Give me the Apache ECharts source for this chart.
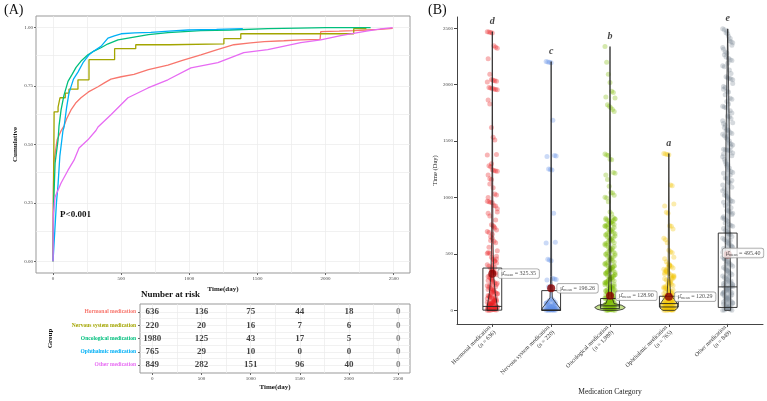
<!DOCTYPE html>
<html>
<head>
<meta charset="utf-8">
<title>Cumulative incidence and time by medication</title>
<script src="https://cdn.jsdelivr.net/npm/echarts@6/dist/echarts.min.js"></script>
<style>
html, body { margin: 0; padding: 0; background: #fff; }
#container { width: 767px; height: 401px; }
</style>
</head>
<body>
<div id="container"></div>
<script>
// ---------- data ----------
var groupNames = ['Hormonal medication', 'Nervous system medication', 'Oncological medication', 'Ophthalmic medication', 'Other medication'];
var groupN = ['636', '220', '1,980', '765', '849'];
var curveColors = ['#F8766D', '#A3A500', '#00BF7D', '#00B0F6', '#E76BF3'];
var pointColors = ['#E8191B', '#5E8DE6', '#7DBB00', '#F2C500', '#7F8C98'];

// cumulative curves [day, cumulative]
var cumHormonal = [[0,0],[2,0.3],[5,0.42],[15,0.46],[30,0.52],[60,0.56],[81,0.58],[100,0.61],[132,0.648],[170,0.68],[205,0.7],[260,0.725],[330,0.747],[380,0.765],[425,0.78],[500,0.79],[594,0.8],[700,0.82],[843,0.84],[950,0.86],[1085,0.884],[1200,0.905],[1327,0.927],[1450,0.935],[1550,0.94],[1694,0.944],[1818,0.948],[1960,0.95],[1965,0.983],[2100,0.985],[2207,0.987],[2300,0.99],[2400,0.993],[2493,0.997]];
var cumNervous = [[0,0],[8,0.64],[37,0.66],[51,0.7],[90,0.72],[117,0.737],[183,0.777],[264,0.863],[452,0.91],[607,0.927],[855,0.931],[1254,0.953],[1378,0.974],[2207,0.996],[2300,0.996]];
var cumOncological = [[0,0],[5,0.25],[15,0.42],[37,0.52],[44,0.58],[59,0.648],[80,0.71],[110,0.77],[140,0.8],[169,0.83],[210,0.86],[256,0.884],[300,0.9],[352,0.914],[400,0.93],[477,0.948],[594,0.96],[700,0.97],[843,0.979],[1085,0.987],[1300,0.99],[1576,0.996],[1800,0.998],[2000,1.0],[2331,1.0]];
var cumOphthalmic = [[0,0],[10,0.1],[25,0.25],[37,0.33],[50,0.45],[73,0.56],[81,0.575],[100,0.66],[117,0.72],[150,0.78],[183,0.81],[220,0.85],[264,0.884],[300,0.9],[352,0.92],[403,0.955],[450,0.965],[500,0.974],[600,0.978],[718,0.98],[850,0.985],[990,0.99],[1200,0.993],[1393,0.996]];
var cumOther = [[0,0],[2,0.2],[15,0.275],[59,0.335],[110,0.39],[154,0.433],[191,0.485],[256,0.52],[315,0.56],[330,0.575],[425,0.627],[550,0.7],[697,0.742],[843,0.777],[1012,0.828],[1210,0.85],[1400,0.893],[1576,0.906],[1818,0.936],[1965,0.948],[2111,0.966],[2300,0.985],[2405,0.995],[2493,1.0]];

// number at risk
var riskTimes = [0, 500, 1000, 1500, 2000, 2500];
var riskHormonal = [636, 136, 75, 44, 18, 0];
var riskNervous = [220, 20, 16, 7, 6, 0];
var riskOncological = [1980, 125, 43, 17, 5, 0];
var riskOphthalmic = [765, 29, 10, 0, 0, 0];
var riskOther = [849, 282, 151, 96, 40, 0];

// panel B: individual times (Day)
var timeHormonal = [2470,2468,2462,2458,2345,2332,2322,2230,2092,2045,2040,2036,2030,2025,1975,1970,1966,1962,1958,1955,1865,1830,1620,1535,1510,1382,1376,1282,1272,1246,1240,1236,1232,1200,1166,1160,1086,1032,1022,968,962,958,954,930,924,872,860,836,758,750,730,712,700,690,652,640,612,600,528,512,506,470,452,436,420,404,390,376,360,344,330,316,300,288,272,258,244,230,218,204,192,180,168,156,144,132,120,110,100,90,80,72,64,56,48,42,36,30,24,18,14,10,6,3,0,0,2,8,12,20,28,38,50,60,70,85,95,105,125,140,160,175,210,240,265,310,350,400,440,480,15,33,45,66,78,115,150,185,225,280,335,380,455,505,560,620,675,740,800,900,1000,1120,1300];
var timeNervous = [2205,2202,2198,2195,1685,1372,1368,1364,1252,1248,1244,860,604,598,452,446,440,282,278,274,270,210,205,100,85,70,60,50,42,35,28,22,16,12,8,5,3,1,0,0,0,2,4,6,10,14,18,25,30,38,45,55,65,75,90];
var timeOncological = [2338,2200,2092,2020,1942,1930,1882,1890,1822,1810,1795,1780,1762,1385,1378,1372,1340,1335,1222,1215,1200,1160,1100,1045,1040,1020,1002,995,962,872,855,820,812,805,800,790,780,770,760,750,740,728,715,700,690,678,665,650,640,628,615,600,590,575,560,548,535,520,505,495,480,468,455,440,428,415,400,388,375,362,350,336,322,310,298,285,272,260,248,236,224,212,200,190,180,170,160,150,140,130,120,110,100,92,84,76,68,60,54,48,42,36,30,25,20,16,12,8,5,2,0,0,1,3,6,10,14,18,22,28,33,38,44,50,57,64,72,80,88,96,105,115,125,135,145,155,165,175,185,195,205,218,230,242,255,268,280,292,305,318,330,345,358,370,382,395,408,422,435,448,462,475,488,500,512,526,540,553,567,580,595,608,622,634,646,660,672,684,696,708,722,734,746,756,766,776,786,796,808,816,4,9,15,24,35,46,58,70,82,94,108,122,138,152,168,182,198,214,228,246,262,276,290,302,316,328,342,356,368,380,392];
var timeOphthalmic = [1390,1386,1382,1380,1110,1105,942,925,870,860,750,745,720,640,625,600,532,520,510,470,458,430,412,400,388,376,364,352,340,328,316,304,292,280,268,256,244,232,220,208,196,184,172,160,148,136,124,112,100,90,80,70,62,54,46,40,34,28,22,18,14,10,7,4,2,0,0,1,3,5,8,12,16,20,25,30,36,42,48,56,64,72,85,95,105,118,130,142,155,168,180,195,210,225,240,262,286,310,334,358,382,405,6,11,19,27,33,44,52,60,68,78,88,98,110,122,135,150,165,190,215,250,275,300,320,345,370,395];
var timeOther = [2495,2488,2460,2452,2390,2380,2372,2314,2290,2282,2235,2222,2215,2167,2160,2070,2062,2057,2050,2044,1983,1975,1942,1936,1880,1872,1810,1802,1795,1722,1715,1700,1662,1655,1640,1604,1596,1577,1568,1560,1548,1530,1515,1500,1474,1466,1428,1424,1421,1418,1414,1370,1362,1340,1300,1292,1262,1230,1222,1215,1174,1168,1135,1128,1090,1060,1022,1015,1008,985,972,965,958,930,888,880,872,850,818,812,800,790,760,752,745,725,705,698,690,672,655,640,628,612,600,588,575,560,548,535,520,508,495,482,470,455,442,430,418,405,392,380,368,355,342,330,318,305,292,280,268,255,242,230,218,205,192,180,168,155,142,130,118,105,92,80,68,55,42,30,18,8,0,0,4,12,24,36,48,62,75,88,100,112,125,138,150,162,175,188,200,212,225,238,250,2475,2430,2410,2350,2330,2265,2245,2190,2130,2100,2010,1960,1910,1850,1830,1770,1750,1680,1620,1590,1540,1480,1450,1395,1385,1320,1280,1245,1200,1150,1110,1075,1040,995,945,910,860,830,775,735,680,620,565,515,460,410,350,300,260,210,160,110,60,20];

// panel B summary statistics
var q1Values = [2, 0, 15, 30, 26];
var medianValues = [35, 3, 40, 60, 208];
var q3Values = [375, 175, 105, 125, 685];
var meanValues = [325.35, 196.26, 128.90, 120.29, 495.40];
var maxValues = [2470, 2205, 2338, 1390, 2495];
var groupLetters = ['d', 'c', 'b', 'a', 'e'];

// violin profiles [Day, half width in category units]
var violinHormonal = [[0,0.09],[40,0.085],[150,0.05],[300,0.025],[600,0.012],[1200,0.006],[2470,0]];
var violinNervous = [[0,0.16],[20,0.15],[60,0.09],[110,0.02],[300,0.008],[2205,0]];
var violinOncological = [[0,0.14],[10,0.22],[26,0.26],[45,0.2],[60,0.07],[120,0.03],[300,0.015],[800,0.008],[2338,0]];
var violinOphthalmic = [[0,0.1],[20,0.15],[55,0.15],[100,0.09],[140,0.03],[300,0.012],[1390,0]];
var violinOther = [[0,0.05],[200,0.05],[600,0.04],[1500,0.03],[2495,0]];

// ---------- build ----------
var serif = 'Liberation Serif';
var chart = echarts.init(document.getElementById('container'));

var cumList = [cumHormonal, cumNervous, cumOncological, cumOphthalmic, cumOther];
var riskList = [riskHormonal, riskNervous, riskOncological, riskOphthalmic, riskOther];
var timeList = [timeHormonal, timeNervous, timeOncological, timeOphthalmic, timeOther];
var violinList = [violinHormonal, violinNervous, violinOncological, violinOphthalmic, violinOther];

var xTicksA = [0, 500, 1000, 1500, 2000, 2500];
var xGridA = [0, 250, 500, 750, 1000, 1250, 1500, 1750, 2000, 2250, 2500];
var yTicksA = [0, 0.25, 0.5, 0.75, 1];
var yGridA = [0, 0.125, 0.25, 0.375, 0.5, 0.625, 0.75, 0.875, 1];
var rowTicks = [1, 2, 3, 4, 5];
var rowGrid = [1, 1.5, 2, 2.5, 3, 3.5, 4, 4.5, 5];
var yTicksB = [0, 500, 1000, 1500, 2000, 2500];

function hexAlpha(hex, a) {
	var r = parseInt(hex.slice(1, 3), 16), g = parseInt(hex.slice(3, 5), 16), b = parseInt(hex.slice(5, 7), 16);
	return 'rgba(' + r + ',' + g + ',' + b + ',' + a + ')';
}

// light background grid drawn as mark lines on an empty series
function gridLines(xi, yi, xs, ys) {
	var d = [];
	xs.forEach(function (v) { d.push({ xAxis: v }); });
	ys.forEach(function (v) { d.push({ yAxis: v }); });
	return {
		type: 'line', xAxisIndex: xi, yAxisIndex: yi, data: [], z: 0, silent: true,
		markLine: {
			silent: true, symbol: 'none', animation: false, label: { show: false },
			lineStyle: { color: '#ebebeb', width: 0.7, type: 'solid' }, emphasis: { disabled: true },
			data: d
		}
	};
}

var tickFont = { fontFamily: serif, fontSize: 5, color: '#444', formatter: function (v) { return String(v); } };
var nameBold = { fontFamily: serif, fontSize: 7, fontWeight: 'bold', color: '#111' };

var xAxes = [
	{ // A main
		type: 'value', gridIndex: 0, min: -125, max: 2620,
		axisLine: { show: false, onZero: false },
		axisTick: { show: true, customValues: xTicksA, length: 2, lineStyle: { color: '#666' } },
		axisLabel: Object.assign({ customValues: xTicksA, margin: 3 }, tickFont),
		splitLine: { show: false },
		name: 'Time(day)', nameLocation: 'middle', nameGap: 11, nameTextStyle: nameBold
	},
	{ // risk table
		type: 'value', gridIndex: 1, min: -125, max: 2620,
		axisLine: { show: false, onZero: false },
		axisTick: { show: true, customValues: xTicksA, length: 2, lineStyle: { color: '#666' } },
		axisLabel: Object.assign({ customValues: xTicksA, margin: 3 }, tickFont),
		splitLine: { show: false },
		name: 'Time(day)', nameLocation: 'middle', nameGap: 11, nameTextStyle: nameBold
	},
	{ // B
		type: 'value', gridIndex: 2, min: 0.4, max: 5.6,
		axisLine: { show: true, onZero: false, lineStyle: { color: '#444', width: 1 } },
		axisTick: { show: true, customValues: rowTicks, length: 3, lineStyle: { color: '#444' } },
		axisLabel: {
			customValues: rowTicks, rotate: 45, margin: 5, fontFamily: serif, fontSize: 6, color: '#333', lineHeight: 7,
			formatter: function (v) { return groupNames[v - 1] + '\n(n = ' + groupN[v - 1] + ')'; }
		},
		splitLine: { show: false },
		name: 'Medication Category', nameLocation: 'middle', nameGap: 60,
		nameTextStyle: { fontFamily: serif, fontSize: 7.5, color: '#222' }
	}
];

var richGroups = {};
for (var g = 0; g < 5; g++) {
	richGroups['g' + g] = { color: curveColors[g], fontFamily: serif, fontSize: 5.5, fontWeight: 'bold' };
}

var yAxes = [
	{ // A main
		type: 'value', gridIndex: 0, min: -0.05, max: 1.05,
		axisLine: { show: false, onZero: false },
		axisTick: { show: true, customValues: yTicksA, length: 2, lineStyle: { color: '#666' } },
		axisLabel: Object.assign({}, tickFont, { customValues: yTicksA, margin: 3, formatter: function (v) { return v.toFixed(2); } }),
		splitLine: { show: false },
		name: 'Cumulative', nameLocation: 'middle', nameGap: 17, nameRotate: 90, nameTextStyle: nameBold
	},
	{ // risk table rows
		type: 'value', gridIndex: 1, min: 0.4, max: 5.6, inverse: true,
		axisLine: { show: false, onZero: false },
		axisTick: { show: true, customValues: rowTicks, length: 2, lineStyle: { color: '#666' } },
		axisLabel: {
			customValues: rowTicks, margin: 4, rich: richGroups,
			formatter: function (v) { return '{g' + (v - 1) + '|' + groupNames[v - 1] + '}'; }
		},
		splitLine: { show: false },
		name: 'Group', nameLocation: 'middle', nameGap: 86, nameRotate: 90, nameTextStyle: nameBold
	},
	{ // B
		type: 'value', gridIndex: 2, min: -120, max: 2600,
		axisLine: { show: true, onZero: false, lineStyle: { color: '#444', width: 1 } },
		axisTick: { show: true, customValues: yTicksB, length: 3, lineStyle: { color: '#444' } },
		axisLabel: Object.assign({ customValues: yTicksB, margin: 4 }, tickFont),
		splitLine: { show: false },
		name: 'Time (Day)', nameLocation: 'middle', nameGap: 18, nameRotate: 90,
		nameTextStyle: { fontFamily: serif, fontSize: 6.5, color: '#222' }
	}
];

var series = [];

series.push(gridLines(0, 0, xGridA, yGridA));
series.push(gridLines(1, 1, xGridA, rowGrid));

// A: cumulative curves
for (var i = 0; i < 5; i++) {
	series.push({
		type: 'line', name: groupNames[i], xAxisIndex: 0, yAxisIndex: 0,
		data: cumList[i], showSymbol: false, symbol: 'none',
		step: i === 1 ? 'end' : false,
		lineStyle: { color: curveColors[i], width: 1.3 }, z: 5
	});
}

// risk table numbers
var riskData = [];
for (var r = 0; r < 5; r++) {
	for (var j = 0; j < riskTimes.length; j++) {
		var item = { value: [riskTimes[j], r + 1, riskList[r][j]] };
		if (j === riskTimes.length - 1) item.label = { color: '#666' };
		riskData.push(item);
	}
}
series.push({
	type: 'scatter', xAxisIndex: 1, yAxisIndex: 1, data: riskData, symbolSize: 0, z: 5,
	label: {
		show: true, position: 'inside', fontFamily: serif, fontSize: 9, fontWeight: 'bold', color: '#111',
		formatter: function (p) { return p.value[2]; }
	}
});

// B: jittered points
for (var k = 0; k < 5; k++) {
	var pts = [];
	for (var m = 0; m < timeList[k].length; m++) {
		var jit = (((m * 7919) % 13) / 12 - 0.5) * 0.17;
		pts.push([k + 1 + jit, timeList[k][m]]);
	}
	series.push({
		type: 'scatter', xAxisIndex: 2, yAxisIndex: 2, data: pts, symbolSize: 5,
		itemStyle: { color: hexAlpha(pointColors[k], 0.4) }, z: 2
	});
}

// B: violins
series.push({
	type: 'custom', xAxisIndex: 2, yAxisIndex: 2, z: 3,
	data: [[1, 0], [2, 0], [3, 0], [4, 0], [5, 0]],
	encode: { x: 0, y: 1 },
	renderItem: function (params, api) {
		var idx = params.dataIndex, prof = violinList[idx], cx = idx + 1;
		var pts = [];
		for (var a = 0; a < prof.length; a++) pts.push(api.coord([cx + prof[a][1], prof[a][0]]));
		for (var b = prof.length - 1; b >= 0; b--) pts.push(api.coord([cx - prof[b][1], prof[b][0]]));
		return {
			type: 'polygon', shape: { points: pts },
			style: { fill: hexAlpha(pointColors[idx], 0.45), stroke: '#222', lineWidth: 0.8 }
		};
	}
});

// B: boxes
series.push({
	type: 'custom', xAxisIndex: 2, yAxisIndex: 2, z: 4,
	data: [[1, 0], [2, 0], [3, 0], [4, 0], [5, 0]],
	encode: { x: 0, y: 1 },
	renderItem: function (params, api) {
		var idx = params.dataIndex, cx = idx + 1, hw = 0.16;
		var tl = api.coord([cx - hw, q3Values[idx]]);
		var br = api.coord([cx + hw, q1Values[idx]]);
		var ml = api.coord([cx - hw, medianValues[idx]]);
		var mr = api.coord([cx + hw, medianValues[idx]]);
		return {
			type: 'group', children: [
				{ type: 'rect', shape: { x: tl[0], y: tl[1], width: br[0] - tl[0], height: br[1] - tl[1] },
					style: { fill: 'none', stroke: '#222', lineWidth: 0.9 } },
				{ type: 'line', shape: { x1: ml[0], y1: ml[1], x2: mr[0], y2: mr[1] },
					style: { stroke: '#222', lineWidth: 0.9 } }
			]
		};
	}
});

// B: means with labels
var meanData = [];
for (var q = 0; q < 5; q++) {
	var md = { value: [q + 1, meanValues[q]] };
	// the last label is pushed back inside the panel
	if (q === 4) md.label = { position: [-1, -2] };
	meanData.push(md);
}
series.push({
	type: 'scatter', xAxisIndex: 2, yAxisIndex: 2, data: meanData, symbolSize: 8, z: 6,
	itemStyle: { color: '#8B0000' },
	label: {
		show: true, position: 'right', distance: 2,
		backgroundColor: '#fff', borderColor: '#888', borderWidth: 0.7, borderRadius: 2, padding: [1, 3, 1, 3],
		formatter: function (p) { return '{m|μ̂}{s|mean}{m| = ' + p.value[1].toFixed(2) + '}'; },
		rich: {
			m: { fontFamily: serif, fontSize: 6, color: '#222' },
			s: { fontFamily: serif, fontSize: 4, color: '#222', padding: [3, 0, 0, 0] }
		}
	}
});

// B: group letters above maximum
var letterData = [];
for (var t = 0; t < 5; t++) letterData.push([t + 1, maxValues[t]]);
series.push({
	type: 'scatter', xAxisIndex: 2, yAxisIndex: 2, data: letterData, symbolSize: 0, z: 6,
	label: {
		show: true, position: 'top', distance: 5,
		fontFamily: serif, fontSize: 10, fontWeight: 'bold', fontStyle: 'italic', color: '#111',
		formatter: function (p) { return groupLetters[p.dataIndex]; }
	}
});

var options = {
	animation: false,
	backgroundColor: '#fff',
	grid: [
		{ left: 36, top: 16, width: 374, height: 257, show: true, borderColor: '#999', borderWidth: 1, backgroundColor: 'transparent' },
		{ left: 140, top: 304, width: 270, height: 69, show: true, borderColor: '#999', borderWidth: 1, backgroundColor: 'transparent' },
		{ left: 457, top: 17, width: 306, height: 314 }
	],
	xAxis: xAxes,
	yAxis: yAxes,
	graphic: [
		{ type: 'text', left: 4, top: 3, style: { text: '(A)', font: '14px "Liberation Serif"', fill: '#111' } },
		{ type: 'text', left: 428, top: 3, style: { text: '(B)', font: '14px "Liberation Serif"', fill: '#111' } },
		{ type: 'text', left: 141, top: 290, style: { text: 'Number at risk', font: 'bold 9px "Liberation Serif"', fill: '#111' } },
		{ type: 'text', left: 60, top: 210, style: { text: 'P<0.001', font: 'bold 9px "Liberation Serif"', fill: '#111' } }
	],
	series: series
};

chart.setOption(options);
</script>
</body>
</html>
